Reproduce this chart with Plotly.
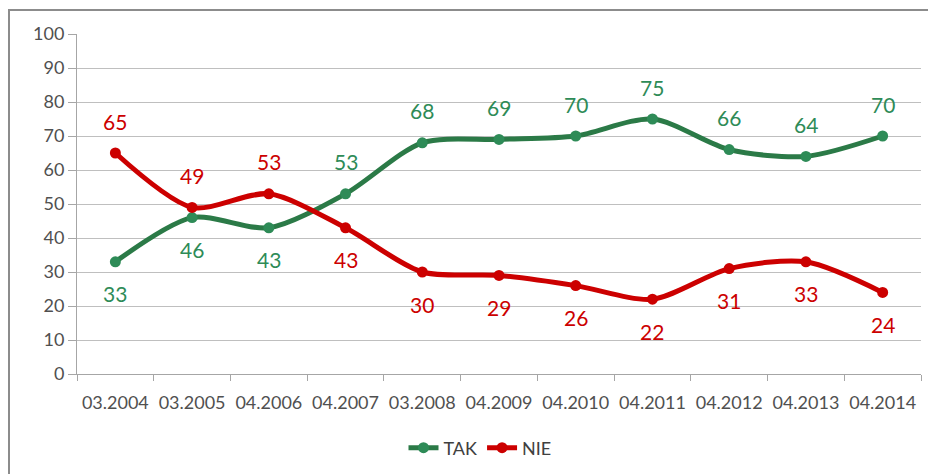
import plotly.graph_objects as go

categories = ["03.2004", "03.2005", "04.2006", "04.2007", "03.2008", "04.2009",
              "04.2010", "04.2011", "04.2012", "04.2013", "04.2014"]
tak = [33, 46, 43, 53, 68, 69, 70, 75, 66, 64, 70]
nie = [65, 49, 53, 43, 30, 29, 26, 22, 31, 33, 24]
# label placement: +1 above the point, -1 below
tak_pos = [-1, -1, -1, 1, 1, 1, 1, 1, 1, 1, 1]
nie_pos = [1, 1, 1, -1, -1, -1, -1, -1, -1, -1, -1]

GREEN_LINE = "#2B7A47"
GREEN_MARK = "#2E8B57"
GREEN_TEXT = "#2E8B57"
RED = "#CC0000"
FONT = "Lato"

# page body has an 8px margin: figure pixel = page pixel - 8
W, H = 928, 466
L, R, T, B = 69, 15, 26, 100
PW = W - L - R
PH = H - T - B

fig = go.Figure()
fig.add_trace(go.Scatter(
    x=categories, y=tak, name="TAK", mode="lines+markers",
    line=dict(color=GREEN_LINE, width=5, shape="spline", smoothing=0.8),
    marker=dict(color=GREEN_MARK, size=11),
))
fig.add_trace(go.Scatter(
    x=categories, y=nie, name="NIE", mode="lines+markers",
    line=dict(color=RED, width=5, shape="spline", smoothing=0.8),
    marker=dict(color=RED, size=11),
))

annotations = []
for series, pos, col in ((tak, tak_pos, GREEN_TEXT), (nie, nie_pos, RED)):
    for i, (v, p) in enumerate(zip(series, pos)):
        annotations.append(dict(
            x=i, y=v, xref="x", yref="y", text=str(v), showarrow=False,
            yshift=32 * p, font=dict(family=FONT, size=21, color=col),
        ))

fig.update_layout(
    width=W, height=H,
    margin=dict(l=L, r=R, t=T, b=B, autoexpand=False),
    paper_bgcolor="white", plot_bgcolor="white",
    font=dict(family=FONT, size=18, color="#595959"),
    showlegend=True,
    legend=dict(orientation="h", x=(472 - L) / PW, xanchor="center",
                y=(H - B - 440) / PH, yanchor="middle",
                font=dict(family=FONT, size=18, color="#404040"),
                itemwidth=30, tracegroupgap=0),
    annotations=annotations,
    xaxis=dict(
        type="category", range=[-0.5, len(categories) - 0.5],
        tickson="boundaries", ticks="outside", ticklen=6,
        tickcolor="#A6A6A6", showline=True, linecolor="#A6A6A6", linewidth=1,
        showgrid=False, automargin=False, tickangle=0, ticklabelstandoff=12,
        tickfont=dict(family=FONT, size=18, color="#505050"),
    ),
    yaxis=dict(
        range=[0, 100], dtick=10, tickmode="linear", tick0=0,
        ticks="outside", ticklen=8, tickcolor="#A6A6A6",
        showline=True, linecolor="#A6A6A6", linewidth=1,
        showgrid=True, gridcolor="#BFBFBF", gridwidth=1, automargin=False,
        zeroline=False, tickfont=dict(family=FONT, size=18, color="#505050"),
    ),
    shapes=[dict(type="rect", xref="paper", yref="paper",
                 x0=(1 - L) / PW, x1=(940 - L) / PW,
                 y0=(H - B - 480) / PH, y1=(H - B - 2) / PH,
                 line=dict(color="#8C8C8C", width=2), layer="below")],
)

fig.write_html("out.html")
